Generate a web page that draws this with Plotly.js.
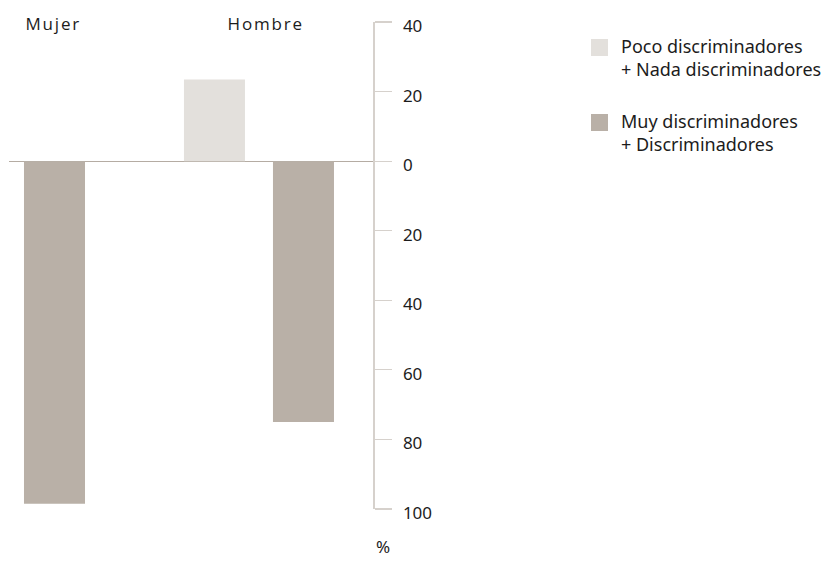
<!DOCTYPE html>
<html>
<head>
<meta charset="utf-8">
<script src="https://cdn.plot.ly/plotly-3.0.1.min.js"></script>
<style>
  html, body { margin: 0; padding: 0; background: #ffffff; }
  #chart { width: 825px; height: 562px; }
  /* spaced lettering for the group labels */
  g.annotation[data-index="0"] text, g.annotation[data-index="1"] text { letter-spacing: 1.8px; }
</style>
</head>
<body>
<div id="chart"></div>
<script>
// Groups
const categories = ['Mujer', 'Hombre'];

// Share of respondents (%) per answer block; the discriminating block is drawn downward
const seriesNames = ['Poco discriminadores<br>+ Nada discriminadores', 'Muy discriminadores<br>+ Discriminadores'];
const pocoNada = [null, 23.5];
const muyDisc = [98.5, 75];

// Value axis ticks (labels show absolute values)
const tickValues = [-100, -80, -60, -40, -20, 0, 20, 40];
const tickLabels = ['100', '80', '60', '40', '20', '0', '20', '40'];
const unitLabel = '%';

const colors = ['#e3e0dc', '#b9b0a7'];
const textCol = '#1c1c1c';

const traces = [
  {
    type: 'bar',
    name: seriesNames[0],
    x: categories,
    y: pocoNada,
    marker: { color: colors[0], line: { width: 0 } },
    hoverinfo: 'skip'
  },
  {
    type: 'bar',
    name: seriesNames[1],
    x: categories,
    y: muyDisc.map(v => -v),
    marker: { color: colors[1], line: { width: 0 } },
    hoverinfo: 'skip'
  }
];

// plot area in pixels, used to place the labels and the key
const M = { l: 9, r: 452, t: 22, b: 53 };
const W = 825, H = 562;
const plotW = W - M.l - M.r, plotH = H - M.t - M.b;
const px = x => (x - M.l) / plotW;
const py = y => (H - M.b - y) / plotH;

// group labels along the top
const groupLabelPx = [53, 265];
const annotations = categories.map((c, i) => ({
  text: c,
  xref: 'paper', yref: 'paper',
  x: px(groupLabelPx[i]), y: py(24),
  xanchor: 'center', yanchor: 'middle',
  showarrow: false,
  font: { family: 'Open Sans, sans-serif', size: 17, color: textCol }
}));

// unit under the value axis
annotations.push({
  text: unitLabel,
  xref: 'paper', yref: 'paper',
  x: px(374), y: py(533),
  xanchor: 'left', yanchor: 'top',
  showarrow: false,
  font: { family: 'Noto Sans, sans-serif', size: 17, color: textCol }
});

// key: square swatches with two-line names
const keyTop = [39, 114];
const shapes = [];
seriesNames.forEach((name, i) => {
  shapes.push({
    type: 'rect', xref: 'paper', yref: 'paper',
    x0: px(591), x1: px(608), y0: py(keyTop[i]), y1: py(keyTop[i] + 17),
    fillcolor: colors[i], line: { width: 0 }
  });
  annotations.push({
    text: name,
    xref: 'paper', yref: 'paper',
    x: px(619), y: py(keyTop[i] - 7),
    xanchor: 'left', yanchor: 'top', align: 'left',
    showarrow: false,
    font: { family: 'Noto Sans, sans-serif', size: 18, color: textCol }
  });
});

const layout = {
  width: W,
  height: H,
  margin: { l: M.l, r: M.r, t: M.t, b: M.b, pad: 0 },
  paper_bgcolor: '#ffffff',
  plot_bgcolor: '#ffffff',
  barmode: 'group',
  bargap: 0.285,
  bargroupgap: 0.3145,
  showlegend: false,
  xaxis: {
    type: 'category',
    range: [-0.004, 1.458],
    showticklabels: false,
    ticks: '',
    showgrid: false,
    zeroline: false,
    showline: false,
    fixedrange: true
  },
  yaxis: {
    side: 'right',
    range: [-100, 40],
    tickmode: 'array',
    tickvals: tickValues,
    ticktext: tickLabels,
    ticks: 'outside',
    ticklen: 17,
    tickwidth: 1.2,
    tickcolor: '#d6d1cc',
    showline: true,
    linecolor: '#d6d1cc',
    linewidth: 1.5,
    showgrid: false,
    zeroline: true,
    zerolinecolor: '#b5aca3',
    zerolinewidth: 1.2,
    ticklabelstandoff: 8,
    ticklabelshift: 4,
    tickfont: { family: 'Noto Sans, sans-serif', size: 17, color: textCol },
    fixedrange: true
  },
  shapes: shapes,
  annotations: annotations
};

Plotly.newPlot('chart', traces, layout, { displayModeBar: false, staticPlot: true });
</script>
</body>
</html>
